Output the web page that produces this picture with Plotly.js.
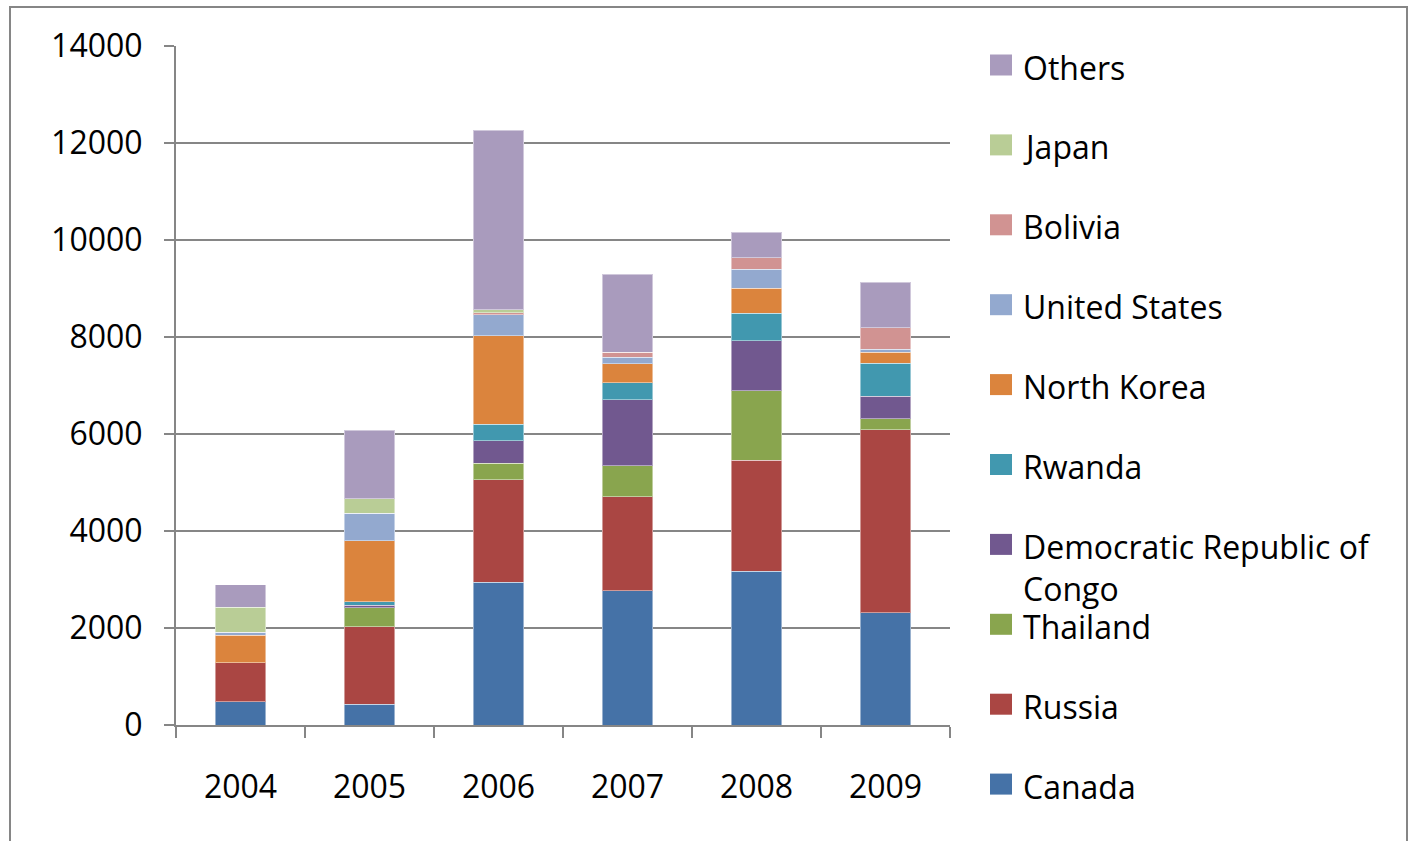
<!DOCTYPE html>
<html>
<head>
<meta charset="utf-8">
<script src="https://cdn.plot.ly/plotly-3.0.1.min.js"></script>
<style>
html,body{margin:0;padding:0;background:#fff;overflow:hidden;}
#frame{position:absolute;left:9px;top:6px;width:1399px;height:860px;border:2px solid #868686;box-sizing:border-box;}
#chart{position:absolute;left:0;top:0;width:1412px;height:841px;}
</style>
</head>
<body>
<div id="frame"></div>
<div id="chart"></div>
<script>
// ---- data ----
const years = ['2004', '2005', '2006', '2007', '2008', '2009'];
const canada       = [482, 427, 2942, 2769, 3169, 2316];
const russia       = [803, 1594, 2116, 1938, 2289, 3772];
const thailand     = [0, 398, 344, 640, 1429, 227];
const drCongo      = [0, 49, 454, 1360, 1037, 462];
const rwanda       = [0, 74, 344, 351, 565, 680];
const northKorea   = [565, 1258, 1827, 392, 515, 227];
const unitedStates = [61, 571, 427, 132, 398, 62];
const bolivia      = [0, 0, 48, 103, 234, 446];
const japan        = [516, 289, 55, 0, 0, 0];
const others       = [460, 1422, 3711, 1608, 523, 935];

const seriesNames = ['Canada', 'Russia', 'Thailand', 'Democratic Republic of<br>Congo', 'Rwanda',
                     'North Korea', 'United States', 'Bolivia', 'Japan', 'Others'];
const seriesValues = [canada, russia, thailand, drCongo, rwanda, northKorea, unitedStates, bolivia, japan, others];
const seriesColors = ['#4572A7', '#AA4643', '#89A54E', '#71588F', '#4198AF',
                      '#DB843D', '#93A9CF', '#D19392', '#B9CD96', '#A99BBD'];

// ---- layout geometry (pixels) ----
const W = 1412, H = 841;
const L = 176, R = 950, T = 46, B = 725;
const pw = R - L, ph = B - T;
const px = x => (x - L) / pw;
const py = y => (B - y) / ph;
const FONT = 'Open Sans, sans-serif';

const traces = seriesValues.map((vals, i) => ({
  type: 'bar',
  name: seriesNames[i],
  x: years,
  y: vals,
  marker: {color: seriesColors[i], line: {color: 'rgba(255,255,255,0.45)', width: 1}},
  showlegend: false,
  hoverinfo: 'name+y'
}));

// manual legend (Excel-style, reversed order)
const shapes = [];
const annotations = [];
const n = seriesNames.length;
seriesNames.forEach((name, i) => {
  const k = n - 1 - i;              // Others at top
  const cy = 65 + k * 79.9;         // symbol center
  shapes.push({
    type: 'rect', xref: 'paper', yref: 'paper',
    x0: px(990), x1: px(1012), y0: py(cy + 10.5), y1: py(cy - 10.5),
    fillcolor: seriesColors[i], line: {width: 0}
  });
  const lines = name.split('<br>').length;
  annotations.push({
    xref: 'paper', yref: 'paper', x: px(1021), y: py(cy + 2 + (lines - 1) * 21),
    xanchor: 'left', yanchor: 'middle', align: 'left', showarrow: false,
    text: name, font: {family: FONT, size: 32, color: '#000'}
  });
});

const layout = {
  width: W, height: H,
  margin: {l: L, r: W - R, t: T, b: H - B, pad: 0},
  paper_bgcolor: 'rgba(0,0,0,0)',
  plot_bgcolor: 'rgba(0,0,0,0)',
  barmode: 'stack',
  bargap: 0.612,
  showlegend: false,
  font: {family: FONT, size: 32, color: '#000'},
  xaxis: {
    type: 'category',
    showline: true, linecolor: '#868686', linewidth: 2,
    ticks: 'outside', tickson: 'boundaries', ticklen: 11, tickwidth: 2, tickcolor: '#868686',
    ticklabelstandoff: 33,
    showgrid: false, zeroline: false,
    tickfont: {family: FONT, size: 32, color: '#000'}
  },
  yaxis: {
    range: [0, 14000], dtick: 2000, tick0: 0,
    tickformat: 'd', exponentformat: 'none', separatethousands: false,
    showline: true, linecolor: '#868686', linewidth: 2,
    ticks: 'outside', ticklen: 10, tickwidth: 2, tickcolor: '#868686',
    ticklabelstandoff: 15,
    showgrid: true, gridcolor: '#868686', gridwidth: 2,
    zeroline: false,
    tickfont: {family: FONT, size: 32, color: '#000'}
  },
  shapes: shapes,
  annotations: annotations
};

Plotly.newPlot('chart', traces, layout, {displayModeBar: false, staticPlot: true});
</script>
</body>
</html>
